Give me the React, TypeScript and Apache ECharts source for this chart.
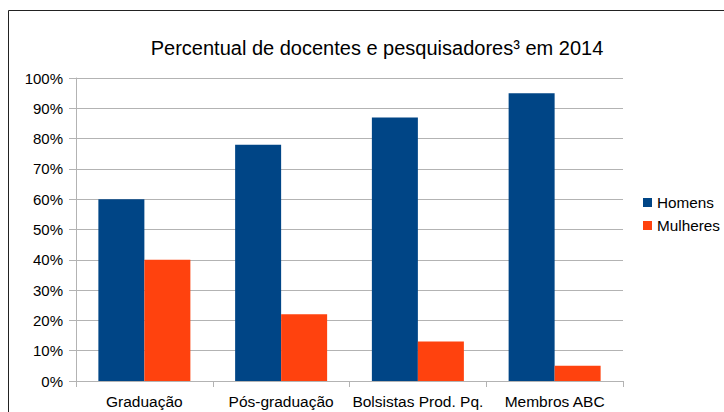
import React, { useEffect, useRef } from "react";
import * as echarts from "echarts";

const categories = ["Graduação", "Pós-graduação", "Bolsistas Prod. Pq.", "Membros ABC"];
const homens = [60, 78, 87, 95];
const mulheres = [40, 22, 13, 5];
const titleText = "Percentual de docentes e pesquisadores³ em 2014";

export default function App() {
  const ref = useRef<HTMLDivElement>(null);
  useEffect(() => {
    const chart = echarts.init(ref.current!, null, { renderer: "svg" });
    const font = "'Liberation Sans', Arial, sans-serif";
    chart.setOption({
      animation: false,
      backgroundColor: "#ffffff",
      title: {
        text: titleText,
        left: 372,
        textAlign: "center",
        top: 33,
        textStyle: { fontFamily: font, fontSize: 20, fontWeight: "normal", color: "#000" },
      },
      graphic: [
        {
          type: "rect",
          shape: { x: 8.5, y: 10.5, width: 800, height: 500 },
          style: { fill: "none", stroke: "#222", lineWidth: 1 },
          silent: true,
        },
      ],
      legend: {
        orient: "vertical",
        left: 638,
        top: 190,
        itemWidth: 9,
        itemHeight: 9,
        itemGap: 8,
        icon: "rect",
        textStyle: { fontFamily: font, fontSize: 15.3, color: "#000" },
        data: ["Homens", "Mulheres"],
      },
      grid: { left: 76, right: 101, top: 78, bottom: 31, containLabel: false },
      xAxis: {
        type: "category",
        data: categories,
        axisLine: { lineStyle: { color: "#b3b3b3" } },
        axisTick: { show: true, length: 6, lineStyle: { color: "#b3b3b3" } },
        axisLabel: { fontFamily: font, fontSize: 15.5, color: "#000", margin: 12, interval: 0 },
      },
      yAxis: {
        type: "value",
        min: 0,
        max: 100,
        interval: 10,
        axisLine: { show: true, lineStyle: { color: "#b3b3b3" } },
        axisTick: { show: true, length: 7, lineStyle: { color: "#b3b3b3" } },
        splitLine: { lineStyle: { color: "#b3b3b3" } },
        axisLabel: { fontFamily: font, fontSize: 15, color: "#000", margin: 13, formatter: "{value}%" },
      },
      series: [
        {
          name: "Homens",
          type: "bar",
          data: homens,
          itemStyle: { color: "#004586" },
          barWidth: 46,
          barGap: "0%",
        },
        {
          name: "Mulheres",
          type: "bar",
          data: mulheres,
          itemStyle: { color: "#ff420e" },
          barWidth: 46,
          barGap: "0%",
        },
      ],
    });
    return () => chart.dispose();
  }, []);
  return (
    <div
      ref={ref}
      style={{ position: "fixed", left: 0, top: 0, width: 724, height: 412 }}
    />
  );
}
